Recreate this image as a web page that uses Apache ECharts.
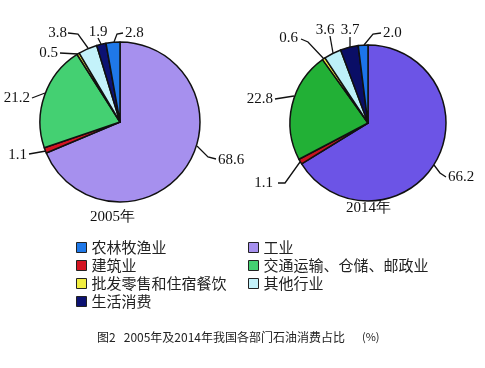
<!DOCTYPE html>
<html><head><meta charset="utf-8">
<script src="https://cdn.jsdelivr.net/npm/echarts@6/dist/echarts.min.js"></script>
<style>html,body{margin:0;padding:0;background:#fff}#c{width:485px;height:368px}</style>
</head><body><div id="c"></div>
<script>
// ---- data ----
const sectors = ['工业', '建筑业', '交通运输、仓储、邮政业', '批发零售和住宿餐饮', '其他行业', '生活消费', '农林牧渔业'];
const values2005 = [68.6, 1.1, 21.2, 0.5, 3.8, 1.9, 2.8];
const values2014 = [66.2, 1.1, 22.8, 0.6, 3.6, 3.7, 2.0];
const years = ['2005年', '2014年'];
const legendLeft = ['农林牧渔业', '建筑业', '批发零售和住宿餐饮', '生活消费'];
const legendRight = ['工业', '交通运输、仓储、邮政业', '其他行业'];
const caption = '图2   2005年及2014年我国各部门石油消费占比';
const unit = '(%)';

// ---- styles ----
const colors2005 = ['#a690ee', '#d41422', '#44d072', '#f2ee40', '#c4f2fa', '#0c1272', '#1f78e8'];
const colors2014 = ['#6c54e6', '#c81420', '#22b036', '#f2ee40', '#bdf0f8', '#0a0e66', '#1c74ea'];
const centers = [[120, 122], [368, 123]];
const radii = [80, 78];
// label placement relative to pie centre: [textX, textY, align, linePoints...]
const labelPos2005 = [
  [98, 38, 'left', [[77, 24], [88, 35], [96, 37]]],
  [-93, 33, 'right', [[-74, 29], [-91, 32]]],
  [-90, -24, 'right', [[-75, -29], [-88, -24]]],
  [-62, -69, 'right', [[-42, -68], [-60, -69]]],
  [-53, -89, 'right', [[-32, -74], [-42, -88], [-52, -89]]],
  [-22, -90, 'center', [[-19, -78], [-22, -84]]],
  [5, -89, 'left', [[-6, -80], [-3, -88], [3, -89]]]
];
const labelPos2014 = [
  [80, 54, 'left', [[66, 42], [72, 50], [78, 54]]],
  [-95, 60, 'right', [[-68, 39], [-83, 60], [-90, 60]]],
  [-95, -24, 'right', [[-74, -27], [-93, -24]]],
  [-70, -85, 'right', [[-44, -64], [-60, -81], [-67, -84]]],
  [-43, -93, 'center', [[-35, -70], [-38, -87]]],
  [-18, -93, 'center', [[-18, -76], [-18, -86]]],
  [15, -90, 'left', [[-4, -78], [5, -89], [13, -90]]]
];

function makeSeries(vals, cols, idx, lp) {
  const c = centers[idx];
  return {
    type: 'pie',
    center: c,
    radius: radii[idx],
    startAngle: 90,
    clockwise: true,
    silent: true,
    animation: false,
    avoidLabelOverlap: false,
    itemStyle: { borderColor: '#111', borderWidth: 1.5 },
    label: {
      show: true, position: 'outside', formatter: p => p.value.toFixed(1),
      fontFamily: 'Liberation Serif', fontSize: 15, color: '#111'
    },
    labelLine: { show: true, length: 5, length2: 5, lineStyle: { color: '#111', width: 1.3 } },
    labelLayout: function (params) {
      const l = lp[params.dataIndex];
      return {
        x: c[0] + l[0], y: c[1] + l[1], align: l[2], verticalAlign: 'middle',
        labelLinePoints: l[3].map(p => [c[0] + p[0], c[1] + p[1]])
      };
    },
    data: sectors.map((n, i) => ({ name: n, value: vals[i], itemStyle: { color: cols[i] } }))
  };
}

const legendCommon = {
  orient: 'vertical', icon: 'rect', itemWidth: 10, itemHeight: 10, itemGap: 3,
  padding: 0, selectedMode: false,
  itemStyle: { borderColor: '#222', borderWidth: 1 },
  textStyle: { fontFamily: 'Noto Sans CJK SC', fontSize: 15, color: '#222', lineHeight: 15 }
};

const chart = echarts.init(document.getElementById('c'), null, { renderer: 'canvas' });
chart.setOption({
  backgroundColor: '#fff',
  legend: [
    Object.assign({}, legendCommon, { left: 76, top: 240, data: legendLeft }),
    Object.assign({}, legendCommon, { left: 248, top: 240, data: legendRight })
  ],
  graphic: [
    { type: 'text', left: 90, top: 210, style: { text: years[0], font: '15px "Liberation Serif"', fill: '#111' } },
    { type: 'text', left: 346, top: 201, style: { text: years[1], font: '15px "Liberation Serif"', fill: '#111' } },
    { type: 'text', left: 97, top: 331, style: { text: caption, font: '12px "Noto Sans CJK SC"', fill: '#222' } },
    { type: 'text', left: 362, top: 331, style: { text: unit, font: '11px "Noto Sans CJK SC"', fill: '#222' } }
  ],
  series: [
    makeSeries(values2005, colors2005, 0, labelPos2005),
    makeSeries(values2014, colors2014, 1, labelPos2014)
  ]
});
</script></body></html>
